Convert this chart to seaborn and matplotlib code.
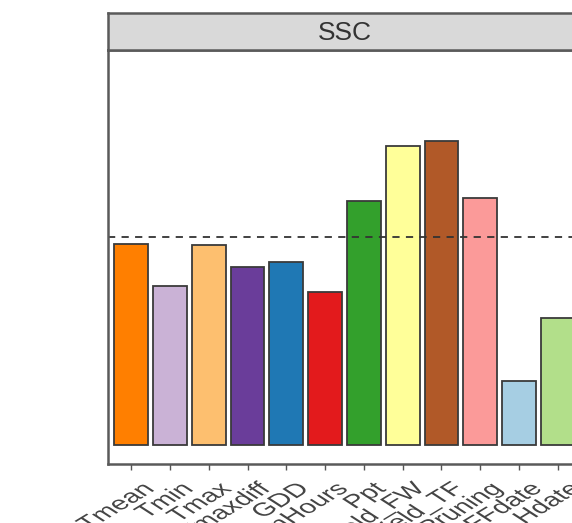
import matplotlib
matplotlib.use("Agg")
import matplotlib.pyplot as plt
import matplotlib.transforms as mtransforms
from matplotlib.patheffects import AbstractPathEffect
import seaborn as sns
import pandas as pd

categories = ["Tmean", "Tmin", "Tmax", "Tmaxdiff", "GDD", "SunHours", "Ppt",
              "Yield_FW", "Yield_TF", "Pruning", "FFdate", "Hdate"]
importance = [7.43, 5.88, 7.40, 6.58, 6.77, 5.66, 9.02, 11.06, 11.24, 9.13, 2.37, 4.70]
colors = ["#FF7F00", "#CAB2D6", "#FDBF6F", "#6A3D9A", "#1F78B4", "#E31A1C",
          "#33A02C", "#FFFF99", "#B15928", "#FB9A99", "#A6CEE3", "#B2DF8A"]
reference_line = 100 / 13
facet_title = "SSC"


class HStretch(AbstractPathEffect):
    """Stretch text horizontally about its right-middle point."""
    def __init__(self, sx):
        super().__init__()
        self.sx = sx

    def draw_path(self, renderer, gc, tpath, affine, rgbFace=None):
        ext = tpath.get_extents()
        px, py = affine.transform((ext.x1, (ext.y0 + ext.y1) / 2))
        new = affine + mtransforms.Affine2D().translate(-px, -py).scale(self.sx, 1).translate(px, py)
        renderer.draw_path(gc, tpath, new, rgbFace)


sns.set_theme(style="white")
plt.rcParams["font.family"] = ["Liberation Sans", "DejaVu Sans"]

df = pd.DataFrame({"variable": categories, "importance": importance})

W, H = 572, 523
fig = plt.figure(figsize=(W / 100, H / 100), dpi=100)
fig.patch.set_facecolor("white")

left, right = 108 / W, 581 / W
pbottom, ptop = 1 - 464 / H, 1 - 50 / H
stop = 1 - 13 / H

ax = fig.add_axes([left, pbottom, right - left, ptop - pbottom])
sns.barplot(data=df, x="variable", y="importance", hue="variable",
            palette=dict(zip(categories, colors)), order=categories,
            edgecolor="#3A3A3A", linewidth=1.3, width=0.87, legend=False,
            saturation=1, ax=ax)
ax.axhline(reference_line, color="#333333", linestyle=(0, (4, 3.5)), linewidth=1.3)

ax.set_xlim(-0.6, len(categories) - 0.4)
ax.set_ylim(-0.70, 14.61)
ax.set_yticks([])
ax.set_xlabel("")
ax.set_ylabel("")
ax.tick_params(axis="x", which="both", bottom=True, length=4, width=1.0,
               color="#555555", pad=3)
offset = mtransforms.ScaledTranslation(18 / 100, -13 / 100, fig.dpi_scale_trans)
for lab in ax.get_xticklabels():
    lab.set_fontsize(13.5)
    lab.set_color("#454545")
    lab.set_rotation(44)
    lab.set_ha("right")
    lab.set_va("center")
    lab.set_rotation_mode("anchor")
    lab.set_transform(lab.get_transform() + offset)
    lab.set_path_effects([HStretch(1.6)])
for s in ax.spines.values():
    s.set_color("#5A5A5A")
    s.set_linewidth(1.8)

sax = fig.add_axes([left, ptop, right - left, stop - ptop])
sax.set_facecolor("#D9D9D9")
sax.set_xticks([])
sax.set_yticks([])
for s in sax.spines.values():
    s.set_color("#5A5A5A")
    s.set_linewidth(1.8)
sax.text(0.5, 0.45, facet_title, ha="center", va="center", fontsize=19,
         color="#333333", transform=sax.transAxes)

fig.savefig("out.png", dpi=100)
